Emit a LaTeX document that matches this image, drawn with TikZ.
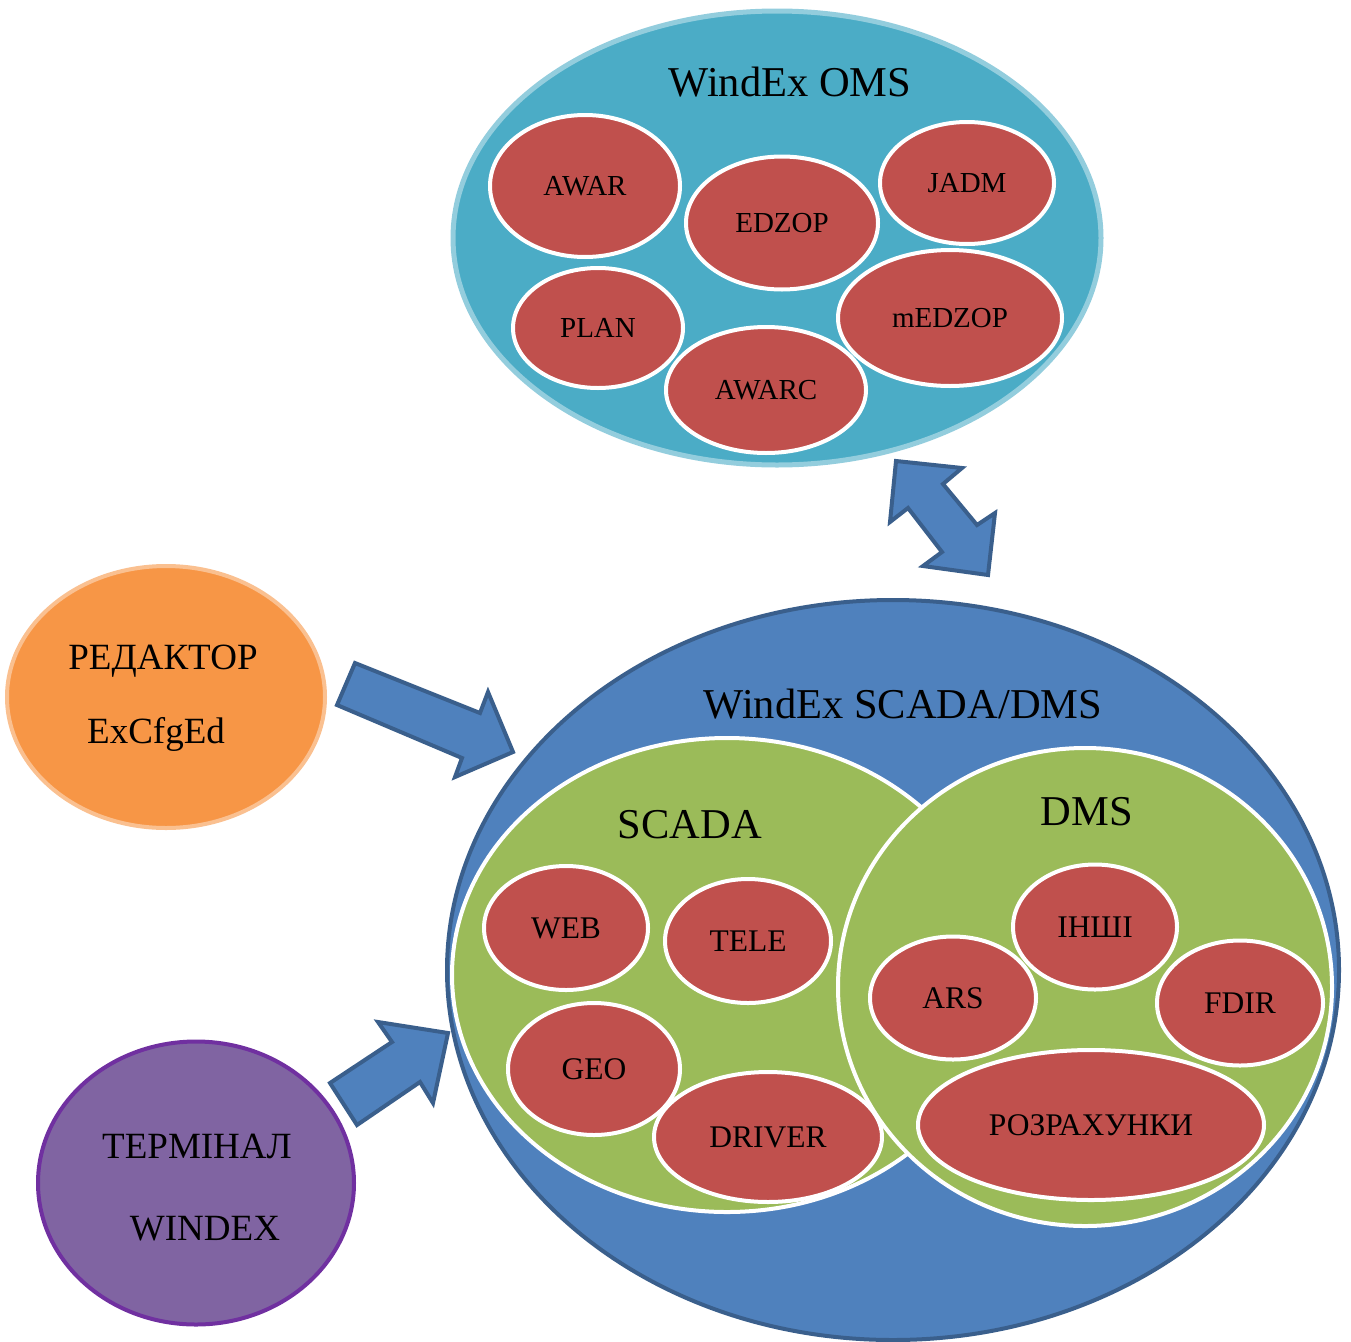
\documentclass[tikz,border=0pt]{standalone}
\usepackage{fontspec}
\setmainfont{Liberation Serif}
\usetikzlibrary{shapes.geometric}
\definecolor{omsfill}{HTML}{4BACC6}
\definecolor{omsline}{HTML}{93CDDD}
\definecolor{bigfill}{HTML}{4F81BD}
\definecolor{bigline}{HTML}{3A5F8C}
\definecolor{grnfill}{HTML}{9BBB59}
\definecolor{redfill}{HTML}{C0504D}
\definecolor{orfill}{HTML}{F79646}
\definecolor{orline}{HTML}{FAC090}
\definecolor{pufill}{HTML}{8064A2}
\definecolor{puline}{HTML}{7030A0}
\tikzset{
  egg/.style={ellipse, inner sep=0pt},
  subomsbox/.style args={#1/#2}{egg, draw=white, line width=4pt, fill=redfill,
     minimum width=#1pt, minimum height=#2pt, font=\fontsize{29}{33}\selectfont},
  subbox/.style args={#1/#2}{egg, draw=white, line width=4pt, fill=redfill,
     minimum width=#1pt, minimum height=#2pt, font=\fontsize{31.5}{36}\selectfont},
  titletext/.style={anchor=base, inner sep=0pt, font=\fontsize{42.5}{48}\selectfont},
  sidetext/.style={anchor=base, inner sep=0pt, font=\fontsize{37}{42}\selectfont},
  blockarrow/.style={draw=bigline, line width=4pt, fill=bigfill, line join=miter},
}
\begin{document}
\begin{tikzpicture}[x=1pt,y=-1pt]
\useasboundingbox (0,0) rectangle (1351,1341);

% ---- OMS ----
\node[egg, draw=omsline, line width=5pt, fill=omsfill, minimum width=648pt, minimum height=454pt] (oms) at (777,238) {};
\node[titletext] (omstitle) at (790,96) {WindEx OMS};
\node[subomsbox=190/142] (awar) at (585,186) {AWAR};
\node[subomsbox=192/133] (edzop) at (782,223) {EDZOP};
\node[subomsbox=174/122] (jadm) at (967,183) {JADM};
\node[subomsbox=170/120] (plan) at (598,328) {PLAN};
\node[subomsbox=224/136] (medzop) at (950,318) {mEDZOP};
\node[subomsbox=200/126] (awarc) at (766,390) {AWARC};

% ---- SCADA/DMS ----
\node[egg, draw=bigline, line width=4pt, fill=bigfill, minimum width=892pt, minimum height=740pt] (sd) at (893,970) {};
\node[titletext] (sdtitle) at (903,718) {WindEx SCADA/DMS};
\node[egg, draw=white, line width=4pt, fill=grnfill, minimum width=550pt, minimum height=474pt] (scada) at (727,975) {};
\node[egg, draw=white, line width=4pt, fill=grnfill, minimum width=494pt, minimum height=478pt] (dms) at (1085,987) {};
\node[titletext] (scadatitle) at (690,838) {SCADA};
\node[titletext] (dmstitle) at (1087,825) {DMS};

\node[subbox=164/124] (web) at (566,928) {WEB};
\node[subbox=166/124] (tele) at (748,941) {TELE};
\node[subbox=172/132] (geo) at (594,1069) {GEO};
\node[subbox=228/130] (driver) at (768,1137) {DRIVER};

\node[subbox=164/125] (inshi) at (1095,927) {ІНШІ};
\node[subbox=166/123] (ars) at (953,998) {ARS};
\node[subbox=166/125] (fdir) at (1240,1003) {FDIR};
\node[subbox=346/150] (rozr) at (1091,1125) {РОЗРАХУНКИ};

% ---- Editor ----
\node[egg, draw=orline, line width=4pt, fill=orfill, minimum width=318pt, minimum height=262pt] (editor) at (166,697) {};
\node[sidetext] (edt1) at (163,669) {РЕДАКТОР};
\node[sidetext] (edt2) at (156,743) {ExCfgEd};

% ---- Terminal ----
\node[egg, draw=puline, line width=4pt, fill=pufill, minimum width=316pt, minimum height=283pt] (term) at (196,1183) {};
\node[sidetext] (tmt1) at (197,1158) {ТЕРМІНАЛ};
\node[sidetext] (tmt2) at (205,1240) {WINDEX};

% ---- Block arrows ----
\draw[blockarrow] (896,461) -- (962,468) -- (943,484) -- (977,525) -- (995,513)
   -- (988,575) -- (923,566) -- (942,552) -- (908,508) -- (890,522) -- cycle;
\draw[blockarrow] (355,663) -- (480,713) -- (488,692) -- (513,752) -- (455,777)
   -- (462,758) -- (337,705) -- cycle;
\draw[blockarrow] (330,1083) -- (392,1042) -- (378,1022) -- (448,1033) -- (433,1103)
   -- (420,1082) -- (357,1125) -- cycle;
\end{tikzpicture}
\end{document}
